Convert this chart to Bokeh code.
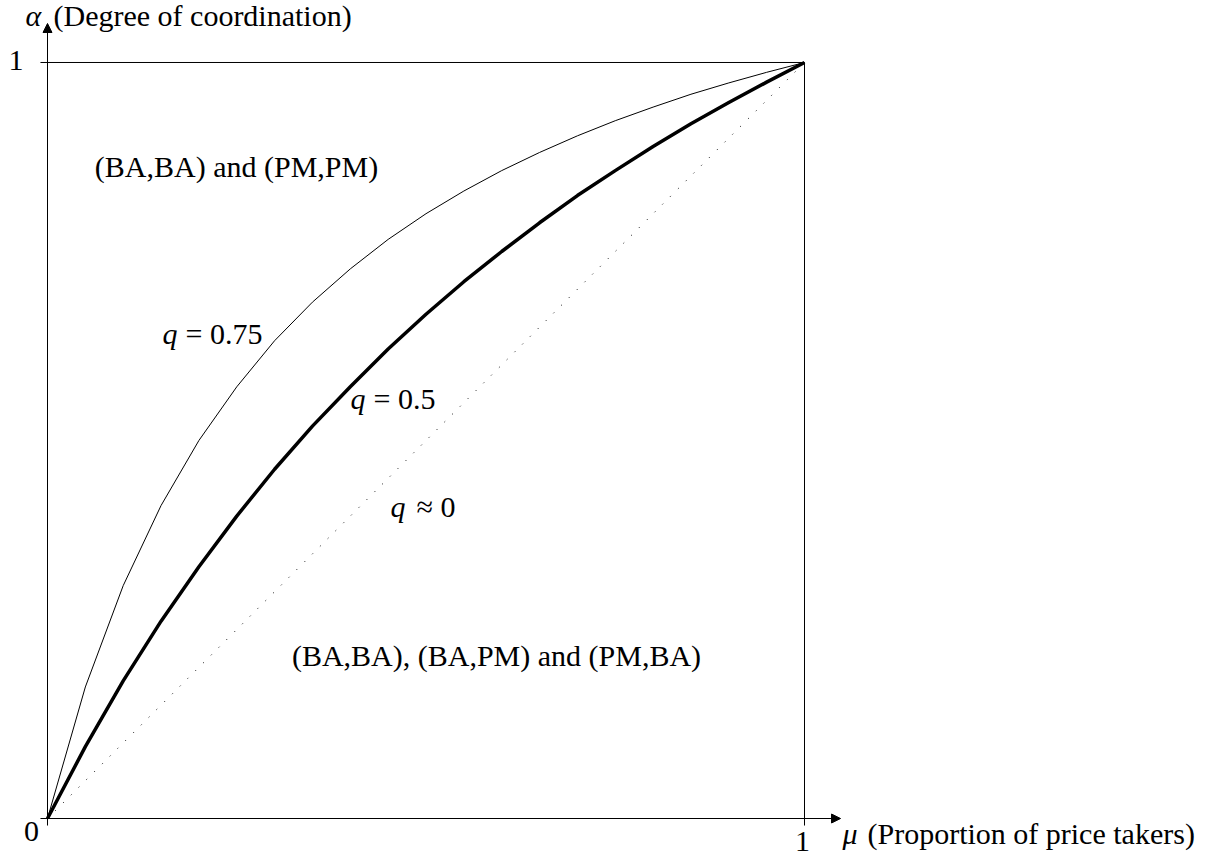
from bokeh.plotting import figure
from bokeh.models import Range1d, Arrow, NormalHead
from bokeh.core.properties import value
from bokeh.embed import file_html
from bokeh.resources import INLINE

# ---- data ----
mu = [0.0, 0.05, 0.10, 0.15, 0.20, 0.25, 0.30, 0.35, 0.40, 0.45, 0.50,
      0.55, 0.60, 0.65, 0.70, 0.75, 0.80, 0.85, 0.90, 0.95, 1.0]
alpha_q075 = [0.0, 0.174, 0.308, 0.414, 0.500, 0.571, 0.632, 0.683, 0.727, 0.766, 0.800,
              0.830, 0.857, 0.881, 0.903, 0.923, 0.941, 0.958, 0.973, 0.987, 1.0]
alpha_q05 = [0.0, 0.095, 0.182, 0.261, 0.333, 0.400, 0.462, 0.519, 0.571, 0.621, 0.667,
             0.710, 0.750, 0.788, 0.824, 0.857, 0.889, 0.919, 0.947, 0.974, 1.0]
mu_q0 = [0.0, 1.0]
alpha_q0 = [0.0, 1.0]

x_ticks = [1.0]
x_tick_labels = ["1"]
y_ticks = [1.0]
y_tick_labels = ["1"]
origin_label = "0"

x_label_sym = "μ"
x_label = "(Proportion of price takers)"
y_label_sym = "α"
y_label = "(Degree of coordination)"

region_labels = ["(BA,BA) and (PM,PM)", "(BA,BA), (BA,PM) and (PM,BA)"]
curve_q = ["q", "q", "q"]
curve_rest = ["= 0.75", "= 0.5", "≈ 0"]

FONT = value("Liberation Serif")
FS = "30px"
TY = 0.0125  # vertical text nudge

p = figure(width=1232, height=858,
           x_range=Range1d(-0.06209, 1.56539), y_range=Range1d(-0.05291, 1.08201),
           output_backend="svg", toolbar_location=None,
           x_axis_location=None, y_axis_location=None,
           min_border=0, outline_line_color=None)
p.grid.visible = False
p.background_fill_color = "white"
p.border_fill_color = "white"

# axes with arrow heads
ax_lo = -0.0093
p.add_layout(Arrow(end=NormalHead(size=9, fill_color="black", line_color="black", line_width=1),
                   x_start=ax_lo, y_start=0, x_end=1.0476, y_end=0,
                   line_color="black", line_width=1))
p.add_layout(Arrow(end=NormalHead(size=9, fill_color="black", line_color="black", line_width=1),
                   x_start=0, y_start=ax_lo, x_end=0, y_end=1.0516,
                   line_color="black", line_width=1))

# frame lines at mu = 1 and alpha = 1 (extending as ticks past the axes)
p.segment(x0=[ax_lo], y0=y_ticks, x1=x_ticks, y1=y_ticks, line_color="black", line_width=1)
p.segment(x0=x_ticks, y0=[ax_lo], x1=x_ticks, y1=y_ticks, line_color="black", line_width=1)

# curves
p.line(mu_q0, alpha_q0, line_color="black", line_width=1, line_dash="1 10")
p.line(mu, alpha_q075, line_color="black", line_width=1)
p.line(mu, alpha_q05, line_color="black", line_width=3.5)

# tick labels
p.text(x=[x - 0.0026 for x in x_ticks], y=[-0.0298], text=x_tick_labels,
       text_font=FONT, text_font_size=FS, text_align="center", text_baseline="alphabetic")
p.text(x=[-0.0317], y=[y - 0.0093 + TY for y in y_ticks], text=y_tick_labels,
       text_font=FONT, text_font_size=FS, text_align="right", text_baseline="alphabetic")
p.text(x=[-0.0211], y=[-0.0291 + TY], text=[origin_label],
       text_font=FONT, text_font_size=FS, text_align="center", text_baseline="alphabetic")

# axis labels
p.text(x=[1.0502], y=[-0.0317 + TY], text=[x_label_sym], text_font=FONT, text_font_size=FS,
       text_font_style="italic", text_align="left", text_baseline="alphabetic")
p.text(x=[1.0832], y=[-0.0317 + TY], text=[x_label], text_font=FONT, text_font_size=FS,
       text_align="left", text_baseline="alphabetic")
p.text(x=[-0.0291], y=[1.0503 + TY], text=[y_label_sym], text_font=FONT, text_font_size=FS,
       text_font_style="italic", text_align="left", text_baseline="alphabetic")
p.text(x=[0.0079], y=[1.0503 + TY], text=[y_label], text_font=FONT, text_font_size=FS,
       text_align="left", text_baseline="alphabetic")

# region labels
p.text(x=[0.2497, 0.5931], y=[0.8505 + TY, 0.2037 + TY], text=region_labels,
       text_font=FONT, text_font_size=FS, text_align="center", text_baseline="alphabetic")

# curve labels
ql_y = [0.6296 + TY, 0.5437 + TY, 0.4008 + TY]
p.text(x=[0.1519, 0.4003, 0.4531], y=ql_y, text=curve_q,
       text_font=FONT, text_font_size=FS, text_font_style="italic",
       text_align="left", text_baseline="alphabetic")
p.text(x=[0.1823, 0.4306, 0.4875], y=ql_y, text=curve_rest,
       text_font=FONT, text_font_size=FS, text_align="left", text_baseline="alphabetic")

open("out.html", "w").write(file_html(p, INLINE))
